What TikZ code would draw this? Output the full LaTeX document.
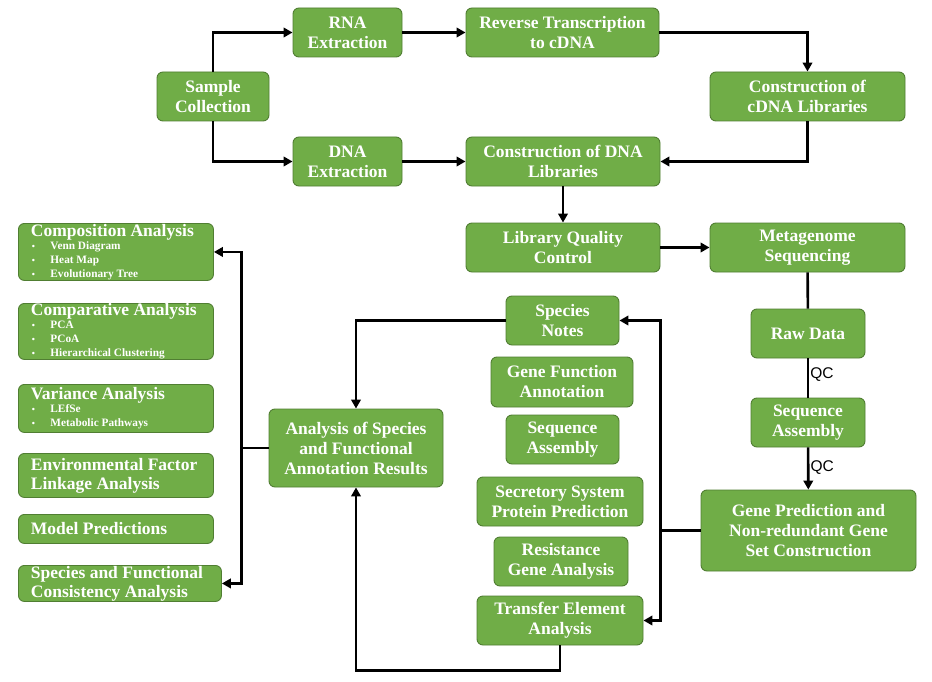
\documentclass[tikz,border=0pt]{standalone}
\usepackage{fontspec}
\setmainfont{Liberation Serif}
\newfontfamily\qcfamily{Liberation Sans}
\usetikzlibrary{arrows.meta,calc}
\definecolor{boxfill}{HTML}{70AD47}
\definecolor{boxline}{HTML}{507E32}
\newcommand{\boxfont}{\fontsize{17.5}{20}\selectfont\bfseries}
\newcommand{\headfont}{\fontsize{17.5}{19}\selectfont\bfseries}
\newcommand{\listfont}{\fontsize{11.3}{14}\selectfont\bfseries}
\newcommand{\bitem}[1]{\makebox[19.5pt][l]{\hspace{1pt}{\fontsize{9}{9}\selectfont\textbullet}}#1}

\begin{document}
\begin{tikzpicture}[x=1pt,y=-1pt,
  entity/.style={draw=boxline, line width=0.9pt, fill=boxfill, rounded corners=6pt, text=white, font=\boxfont, align=center, inner sep=0pt},
  panel/.style={entity, anchor=north west, align=flush left, font=\listfont, inner xsep=12.5pt, text width=170pt, minimum width=195pt},
  arr/.style={-{Triangle[length=9pt,width=9.5pt]}, line width=2.6pt, black},
  link/.style={line width=2.6pt, black},
  qc/.style={font=\qcfamily\fontsize{15.5}{16}\selectfont, anchor=west, inner sep=1pt}
]
  \fill[white] (0,0) rectangle (932,682);
  \useasboundingbox (0,0) rectangle (932,682);

  % sample preparation
  \node[entity, minimum width=112, minimum height=49] (sample) at (213,96.5) {Sample\\Collection};
  \node[entity, minimum width=109, minimum height=49] (rna) at (347.5,32.5) {RNA\\Extraction};
  \node[entity, minimum width=109, minimum height=49] (dna) at (347.5,161.5) {DNA\\Extraction};
  \node[entity, minimum width=193, minimum height=49] (revtr) at (562.5,32.5) {Reverse Transcription\\to cDNA};
  \node[entity, minimum width=194, minimum height=49] (dnalib) at (563,161.5) {Construction of DNA\\Libraries};
  \node[entity, minimum width=195, minimum height=49] (cdnalib) at (807.5,96.5) {Construction of\\cDNA Libraries};
  \node[entity, minimum width=194, minimum height=49] (libqc) at (563,247.5) {Library Quality\\Control};
  \node[entity, minimum width=195, minimum height=49] (metaseq) at (807.5,247.5) {Metagenome\\Sequencing};

  % sequencing and assembly
  \node[entity, minimum width=114, minimum height=49] (rawdata) at (808,333.5) {Raw Data};
  \node[entity, minimum width=114, minimum height=49] (asmb) at (808,422.5) {Sequence\\Assembly};
  \node[entity, minimum width=215, minimum height=81] (genepred) at (808.5,530.5) {Gene Prediction and\\Non-redundant Gene\\Set Construction};

  % annotation column
  \node[entity, minimum width=113, minimum height=49] (notes) at (562.5,320.5) {Species\\Notes};
  \node[entity, minimum width=142, minimum height=50] (funcann) at (562,382) {Gene Function\\Annotation};
  \node[entity, minimum width=113, minimum height=49] (seqasm) at (562.5,439.5) {Sequence\\Assembly};
  \node[entity, minimum width=166, minimum height=49] (secret) at (560,501.5) {Secretory System\\Protein Prediction};
  \node[entity, minimum width=134, minimum height=49] (resist) at (561,561.5) {Resistance\\Gene Analysis};
  \node[entity, minimum width=166, minimum height=49] (transfer) at (560,620.5) {Transfer Element\\Analysis};
  \node[entity, minimum width=174, minimum height=78] (results) at (356,448) {Analysis of Species\\and Functional\\Annotation Results};

  % downstream analyses
  \node[panel, minimum height=57] (compo) at (18,223) {{\headfont Composition Analysis}\\[-1pt]\bitem{Venn Diagram}\\\bitem{Heat Map}\\\bitem{Evolutionary Tree}};
  \node[panel, minimum height=56] (compa) at (18,303) {{\headfont Comparative Analysis}\\[-1pt]\bitem{PCA}\\\bitem{PCoA}\\\bitem{Hierarchical Clustering}};
  \node[panel, minimum height=48] (variance) at (18,384) {{\headfont Variance Analysis}\\[-1pt]\bitem{LEfSe}\\\bitem{Metabolic Pathways}};
  \node[panel, font=\headfont, minimum height=44] (envlink) at (18,453) {Environmental Factor\\Linkage Analysis};
  \node[panel, font=\headfont, minimum height=29] (model) at (18,514) {Model Predictions};
  \node[panel, font=\headfont, minimum height=36, text width=178pt, minimum width=203pt] (consist) at (18,565) {Species and Functional\\Consistency Analysis};

  % connectors
  \draw[arr] (sample.north) |- (rna.west);
  \draw[arr] (sample.south) |- (dna.west);
  \draw[arr] (rna) -- (revtr);
  \draw[arr] (dna) -- (dnalib);
  \draw[arr] (revtr.east) -| (cdnalib.north);
  \draw[arr] (cdnalib.south) |- (dnalib.east);
  \draw[arr] (dnalib) -- (libqc);
  \draw[arr] (libqc) -- (metaseq);
  \draw[link] (metaseq) -- (rawdata);
  \draw[link] (rawdata) -- node[qc, pos=0.4] {QC} (asmb);
  \draw[arr] (asmb) -- node[qc, pos=0.47] {QC} (genepred);

  \coordinate (fork) at (genepred.west -| libqc.east);
  \draw[link] (genepred.west) -- (fork);
  \draw[arr] (fork) |- (notes.east);
  \draw[arr] (fork) |- (transfer.east);
  \draw[arr] (notes.west) -| (results.north);
  \draw[arr] (transfer.south) -- ++(0,25) -| (results.south);

  \coordinate (hub) at ($(results.west)+(-27,0)$);
  \draw[link] (results.west) -- (hub);
  \draw[arr] (hub) |- (compo.east);
  \draw[arr] (hub) |- (consist.east);
\end{tikzpicture}
\end{document}
